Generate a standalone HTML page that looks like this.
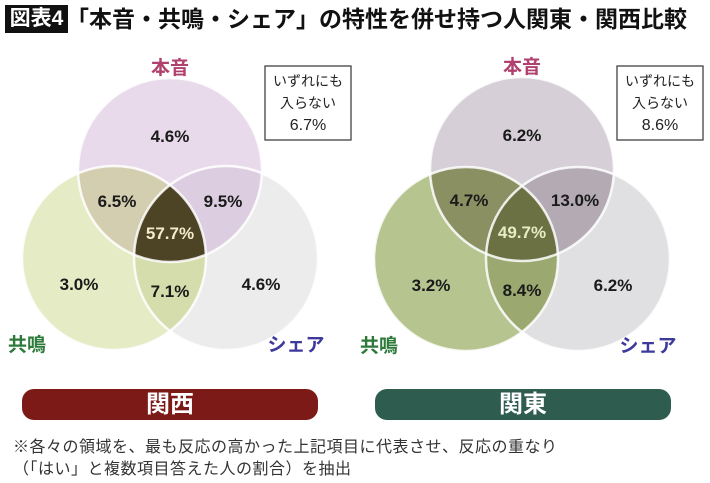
<!DOCTYPE html>
<html><head><meta charset="utf-8">
<style>
body{margin:0;background:#fff;width:710px;height:483px;overflow:hidden;font-family:"Liberation Sans","Noto Sans CJK JP",sans-serif;}
#wrap{position:relative;width:710px;height:483px;}
.t{position:absolute;white-space:nowrap;}
</style></head>
<body>
<div id="wrap">
<div class="t" style="left:5px;top:5px;width:63px;height:28px;background:#111;color:#fff;font-size:21px;font-weight:bold;line-height:28px;text-align:center;">図表4</div>
<div class="t" style="left:66px;top:3px;font-size:23px;line-height:32px;color:#111;font-weight:bold;">「本音・共鳴・シェア」の特性を併せ持つ人関東・関西比較</div>
<svg id="svg" width="710" height="483" style="position:absolute;left:0;top:0"></svg>
<div class="t" style="left:22px;top:389px;width:296px;height:31px;border-radius:12px;background:#7b1a17;color:#fff;font-size:24px;font-weight:bold;text-align:center;line-height:31px;">関西</div>
<div class="t" style="left:375px;top:389px;width:296px;height:31px;border-radius:12px;background:#2e5d50;color:#fff;font-size:24px;font-weight:bold;text-align:center;line-height:31px;">関東</div>
<div class="t" style="left:13px;top:437px;font-size:16px;line-height:22px;color:#333;letter-spacing:0.5px;">※各々の領域を、最も反応の高かった上記項目に代表させ、反応の重なり<br>（「はい」と複数項目答えた人の割合）を抽出</div>
</div>
<script>
// region order: honne-only, kyomei-only, share-only, honne+kyomei, honne+share, kyomei+share, all-three, none
const regions = ["honne","kyomei","share","honne-kyomei","honne-share","kyomei-share","all","none"];
const kansaiValues = [4.6, 3.0, 4.6, 6.5, 9.5, 7.1, 57.7, 6.7];
const kantoValues = [6.2, 3.2, 6.2, 4.7, 13.0, 8.4, 49.7, 8.6];
const setLabels = ["本音","共鳴","シェア"];

const NS="http://www.w3.org/2000/svg";
const svg=document.getElementById('svg');
function mk(tag,attrs,parent){const e=document.createElementNS(NS,tag);for(const k in attrs)e.setAttribute(k,attrs[k]);(parent||svg).appendChild(e);return e;}
function fmt(v){return v.toFixed(1);}

const venns=[
 {id:"kansai",values:kansaiValues,cx:170,cy:170,dx:56,dy:88,r:92,
  colors:["#e8daea","#e4ebc5","#ececec","#d4ceb1","#dccde0","#d5ddad","#4d4325"],
  textAll:"#f3ecc8",boxX:265,boxY:66},
 {id:"kanto",values:kantoValues,cx:522,cy:169,dx:56,dy:90,r:92,
  colors:["#d6cfd7","#b6c48f","#e0dfe1","#8b9063","#b3aab4","#9ba870","#6b7143"],
  textAll:"#e6ecc4",boxX:617,boxY:66}
];
const defs=mk('defs',{});
venns.forEach(v=>{
  const C=[[v.cx,v.cy],[v.cx-v.dx,v.cy+v.dy],[v.cx+v.dx,v.cy+v.dy]];
  const g=mk('g',{});
  
  
  C.forEach((c,i)=>{
    const cp=mk('clipPath',{id:v.id+'c'+i},defs);
    mk('circle',{cx:c[0],cy:c[1],r:v.r},cp);
  });
  const pairs=[[0,1],[0,2],[1,2]];
  [0,1,2].forEach(i=>{
    const c=mk('circle',{cx:C[i][0],cy:C[i][1],r:v.r,fill:v.colors[i]},g);
    
    
  });
  pairs.forEach((p,k)=>{
    const gg=mk('g',{'clip-path':'url(#'+v.id+'c'+p[0]+')'},g);
    const c=mk('circle',{cx:C[p[1]][0],cy:C[p[1]][1],r:v.r,fill:v.colors[3+k]},gg);
    
    
  });
  const g1=mk('g',{'clip-path':'url(#'+v.id+'c0)'},g);
  const g2=mk('g',{'clip-path':'url(#'+v.id+'c1)'},g1);
  const cc=mk('circle',{cx:C[2][0],cy:C[2][1],r:v.r,fill:v.colors[6]},g2);
  
  
  C.forEach(c=>mk('circle',{cx:c[0],cy:c[1],r:v.r,fill:'none',stroke:'#fff','stroke-width':2.5,opacity:0.85},g));
  const pos=[[C[0][0],C[0][1]-35],[C[1][0]-35,C[1][1]+25],[C[2][0]+35,C[2][1]+25],
    [v.cx-53,v.cy+30],[v.cx+53,v.cy+30],[v.cx,v.cy+120],[v.cx,v.cy+62]];
  for(let i=0;i<7;i++){
    const t=mk('text',{x:pos[i][0],y:pos[i][1]+7,'text-anchor':'middle','font-size':17,'font-weight':'bold',fill:i==6?v.textAll:'#1a1a1a'},g);
    
    
    t.textContent=fmt(v.values[i])+'%';
  }
  const sl=[[C[0][0],C[0][1]-96,'#b0406e'],[C[1][0]-87,C[1][1]+93,'#2d7a3a'],[C[2][0]+70,C[2][1]+93,'#3d3a9b']];
  sl.forEach((s,i)=>{
    const t=mk('text',{x:s[0],y:s[1],'text-anchor':'middle','font-size':19,'font-weight':'bold',fill:s[2]},g);
    
    
    t.textContent=setLabels[i];
  });
  const bx=mk('rect',{x:v.boxX,y:v.boxY,width:86,height:74,fill:'#fff',stroke:'#333','stroke-width':1.2},g);
  
  
  const lines=['いずれにも','入らない',fmt(v.values[7])+'%'];
  lines.forEach((l,i)=>{
    const t=mk('text',{x:v.boxX+43,y:v.boxY+20+i*22,'text-anchor':'middle','font-size':i==2?16:14,fill:'#222'},g);
    
    
    t.textContent=l;
  });
});
</script>
</body></html>
